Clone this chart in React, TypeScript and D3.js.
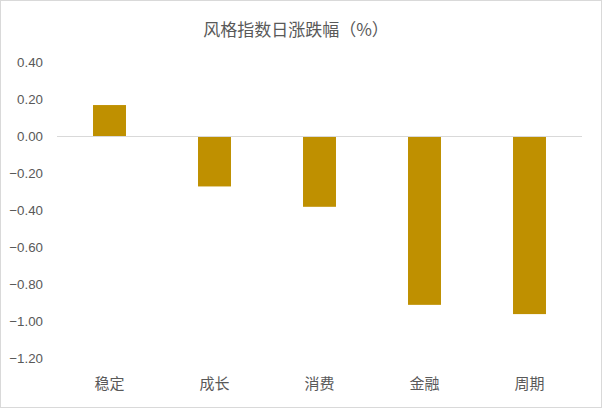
import React from "react";
import * as d3 from "d3";

const categories = ["稳定", "成长", "消费", "金融", "周期"];
const values = [0.17, -0.27, -0.38, -0.91, -0.96];
const yTicks = [0.4, 0.2, 0, -0.2, -0.4, -0.6, -0.8, -1.0, -1.2];
const title = "风格指数日涨跌幅（%）";

const W = 602;
const H = 408;

export default function App() {
  const x = d3.scaleBand<string>().domain(categories).range([57, 582]).paddingInner(0.686).paddingOuter(0.343);
  const y = d3.scaleLinear().domain([-1.2, 0.4]).range([358.5, 62.5]);
  const fmt = d3.format(".2f");
  const textColor = "#595959";
  const numFont = "'Liberation Sans', Arial, sans-serif";
  const cjkFont = "'Noto Sans CJK SC', 'Noto Sans', sans-serif";

  return (
    <svg width={W} height={H} style={{ position: "absolute", left: 0, top: 0, background: "#fff" }}>
      <rect x={0.5} y={0.5} width={W - 1} height={H - 1} fill="#fff" stroke="#d9d9d9" />
      <text x={296} y={36} textAnchor="middle" fill={textColor} fontFamily={cjkFont} fontSize={17}>
        {title}
      </text>
      {yTicks.map((t) => (
        <text key={t} x={43} y={y(t) + 4.8} textAnchor="end" fill={textColor} fontFamily={numFont} fontSize={13.3}>
          {fmt(t)}
        </text>
      ))}
      {categories.map((c, i) => {
        const v = values[i];
        return (
          <rect
            key={c}
            x={x(c)}
            width={x.bandwidth()}
            y={Math.min(y(v), y(0))}
            height={Math.abs(y(v) - y(0))}
            fill="#BF9000"
          />
        );
      })}
      <line x1={57} x2={582} y1={y(0)} y2={y(0)} stroke="#d9d9d9" strokeWidth={1} />
      {categories.map((c) => (
        <text
          key={c + "l"}
          x={(x(c) as number) + x.bandwidth() / 2}
          y={389}
          textAnchor="middle"
          fill={textColor}
          fontFamily={cjkFont}
          fontSize={15}
        >
          {c}
        </text>
      ))}
    </svg>
  );
}
